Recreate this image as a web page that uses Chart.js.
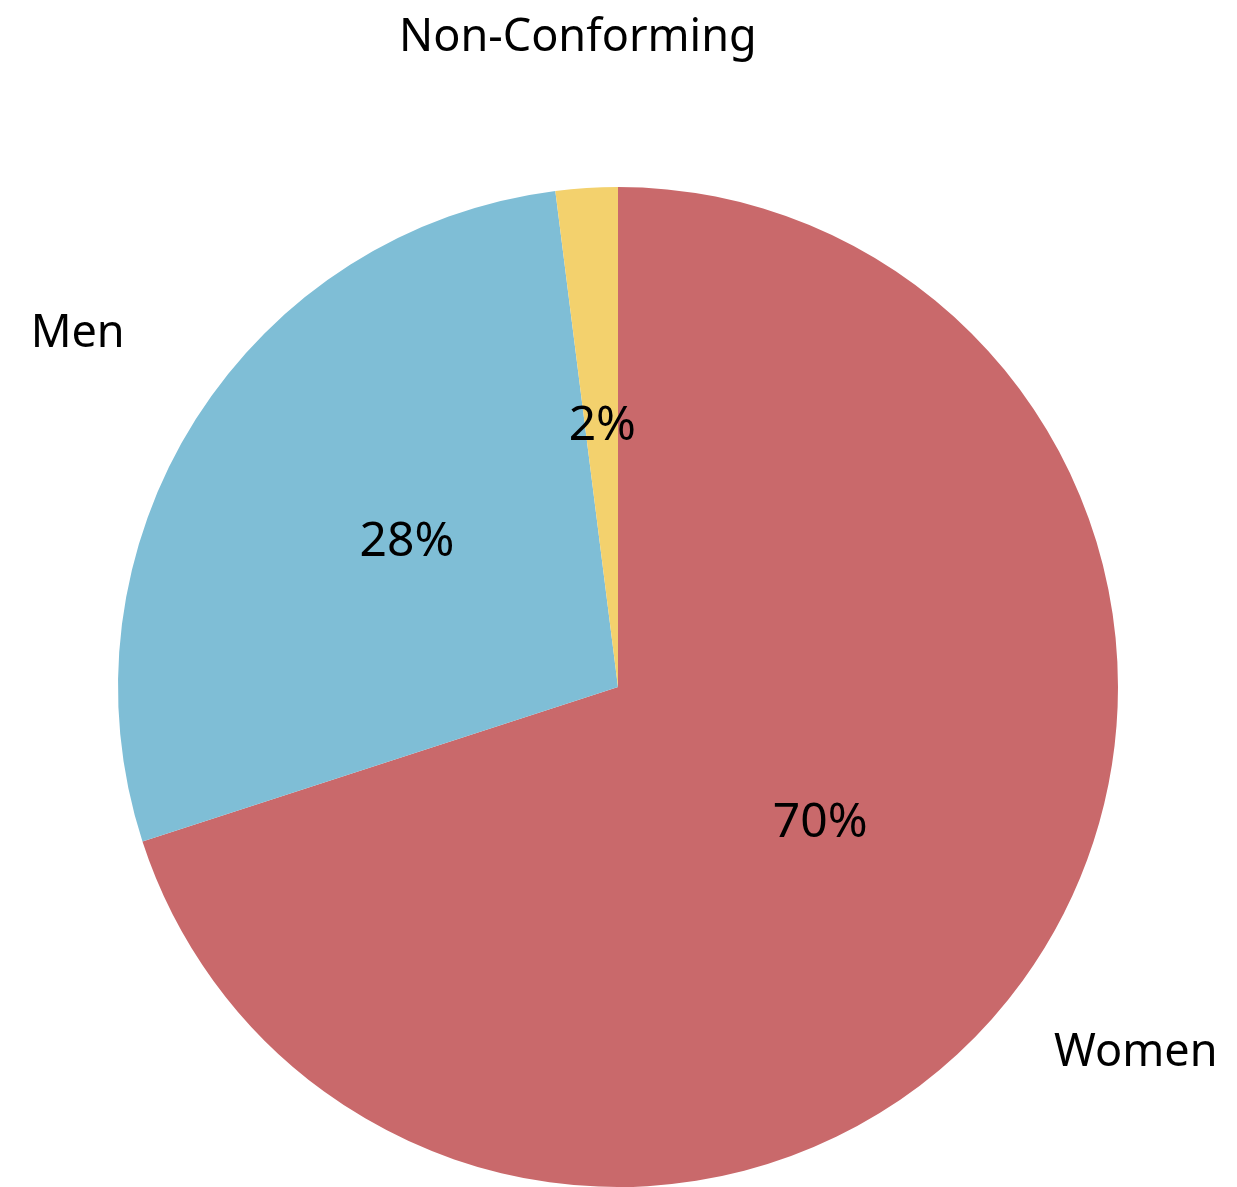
<!DOCTYPE html>
<html>
<head>
  <meta charset="UTF-8">
  <title>Gender split</title>
  <script src="https://cdn.jsdelivr.net/npm/chart.js"></script>
  <style>
    html, body {
      margin: 0;
      padding: 0;
      background: #fff;
    }
    #wrap {
      width: 1237px;
      height: 1187px;
      position: relative;
    }
  </style>
</head>
<body>
  <div id="wrap"><canvas id="pie"></canvas></div>

  <script>
    const labels = ['Women', 'Men', 'Non-Conforming'];
    const shares = [70, 28, 2];
    const colors = ['#c9696b', '#7fbed6', '#f3d16d'];

    const FONT = '"Noto Sans", sans-serif';

    // draws the name outside each slice and its percentage inside
    const sliceLabels = {
      id: 'sliceLabels',
      afterDraw(chart) {
        const ctx = chart.ctx;
        const arcs = chart.getDatasetMeta(0).data;
        ctx.save();
        ctx.fillStyle = '#000';
        ctx.textAlign = 'center';
        ctx.textBaseline = 'middle';
        arcs.forEach((arc, i) => {
          const { x, y, startAngle, endAngle, outerRadius } = arc.getProps(['x', 'y', 'startAngle', 'endAngle', 'outerRadius']);
          const mid = (startAngle + endAngle) / 2;
          const inR = outerRadius * 0.5;
          const outR = outerRadius * 1.28;
          // nudge up a little, Noto sits low on 'middle'
          ctx.font = '48px ' + FONT;
          ctx.fillText(shares[i] + '%', x + Math.cos(mid) * inR, y + Math.sin(mid) * inR - 11);
          ctx.font = '45px ' + FONT;
          ctx.fillText(labels[i], x + Math.cos(mid) * outR, y + Math.sin(mid) * outR - 10);
        });
        ctx.restore();
      }
    };

    new Chart(document.getElementById('pie'), {
      type: 'pie',
      data: {
        labels: labels,
        datasets: [{
          data: shares,
          backgroundColor: colors,
          borderWidth: 0
        }]
      },
      options: {
        responsive: true,
        maintainAspectRatio: false,
        animation: false,
        layout: {
          padding: { top: 187, bottom: 0, left: 117, right: 118 }
        },
        plugins: {
          legend: { display: false },
          tooltip: { enabled: false }
        }
      },
      plugins: [sliceLabels]
    });
  </script>
</body>
</html>
